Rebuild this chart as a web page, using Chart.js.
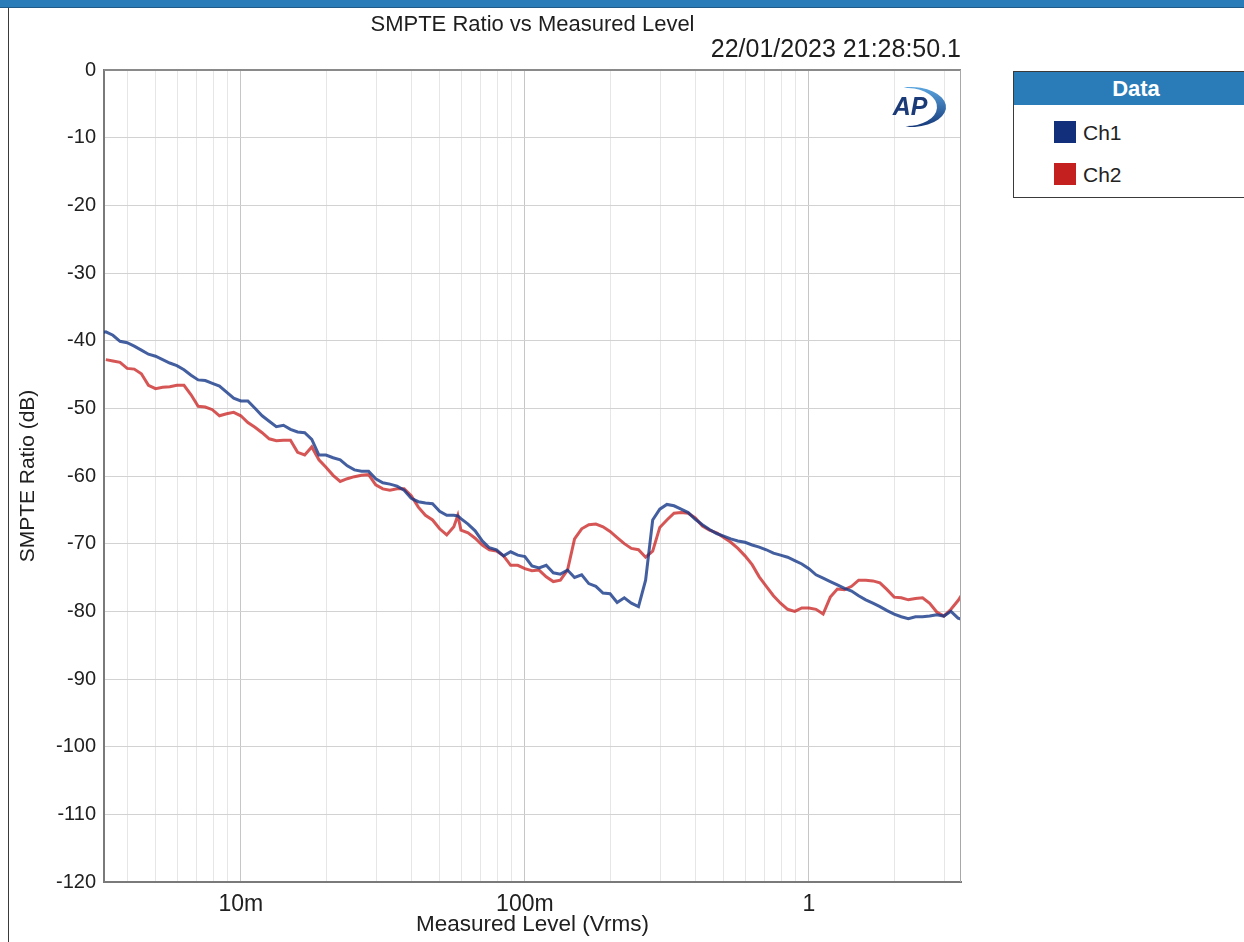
<!DOCTYPE html>
<html>
<head>
<meta charset="utf-8">
<script src="https://cdn.jsdelivr.net/npm/chart.js@4.4.1/dist/chart.umd.min.js"></script>
<style>
  html, body { margin:0; padding:0; background:#fff; width:1244px; height:942px; overflow:hidden; }
  #wrap { position:absolute; left:0; top:0; width:1244px; height:942px; }
  #topbar { position:absolute; left:0; top:0; width:1244px; height:7px; background:#2a7cb9; border-bottom:1px solid #1f5a88; }
  #leftrule { position:absolute; left:8px; top:8px; width:1px; height:934px; background:#3a3a3a; }
  #legend { position:absolute; left:1013px; top:71px; width:244px; height:125px; border:1px solid #3a3a3a; background:#fff;
            font-family:'Liberation Sans', Arial, sans-serif; color:#222; }
  #legend .hd { position:absolute; left:0; top:0; width:100%; height:33px; background:#2a7cb9; color:#fff;
                font-weight:bold; font-size:22px; line-height:34px; text-align:center; }
  #legend .sw { position:absolute; left:40px; width:22px; height:22px; }
  #legend .lb { position:absolute; left:69px; font-size:21px; line-height:24px; }
</style>
</head>
<body>
<div id="wrap"><canvas id="c" width="1244" height="942"></canvas></div>
<div id="topbar"></div>
<div id="leftrule"></div>
<div id="legend">
  <div class="hd">Data</div>
  <div class="sw" style="top:49px;background:#112f7b;"></div><div class="lb" style="top:49px;">Ch1</div>
  <div class="sw" style="top:91px;background:#c42020;"></div><div class="lb" style="top:91px;">Ch2</div>
</div>
<script>
// ---- data ----
const chartTitle = 'SMPTE Ratio vs Measured Level';
const timestamp = '22/01/2023 21:28:50.1';
const seriesNames = ['Ch1', 'Ch2'];

// Measured level (Vrms)
const levels = [
  0.003162, 0.003350, 0.003548, 0.003758, 0.003981, 0.004217, 0.004467, 0.004732, 0.005012, 0.005309,
  0.005623, 0.005957, 0.006310, 0.006683, 0.007079, 0.007499, 0.007943, 0.008414, 0.008913, 0.009441,
  0.01000, 0.01059, 0.01122, 0.01189, 0.01259, 0.01334, 0.01413, 0.01496, 0.01585, 0.01679,
  0.01778, 0.01884, 0.01995, 0.02113, 0.02239, 0.02371, 0.02512, 0.02661, 0.02818, 0.02985,
  0.03162, 0.03350, 0.03548, 0.03758, 0.03981, 0.04217, 0.04467, 0.04732, 0.05012, 0.05309,
  0.05623, 0.05808, 0.05957, 0.06310, 0.06683, 0.07079, 0.07499, 0.07943, 0.08414, 0.08913, 0.09441,
  0.1000, 0.1059, 0.1122, 0.1189, 0.1259, 0.1334, 0.1413, 0.1496, 0.1585, 0.1679,
  0.1778, 0.1884, 0.1995, 0.2113, 0.2239, 0.2371, 0.2512, 0.2661, 0.2818, 0.2985,
  0.3162, 0.3350, 0.3548, 0.3758, 0.3981, 0.4217, 0.4467, 0.4732, 0.5012, 0.5309,
  0.5623, 0.5957, 0.6310, 0.6683, 0.7079, 0.7499, 0.7943, 0.8414, 0.8913, 0.9441,
  1.000, 1.059, 1.122, 1.189, 1.259, 1.334, 1.413, 1.496, 1.585, 1.679,
  1.778, 1.884, 1.995, 2.113, 2.239, 2.371, 2.512, 2.661, 2.818, 2.985,
  3.162, 3.350, 3.548
];

// SMPTE ratio (dB), Ch1
const ch1 = [
  -38.9, -38.7, -39.2, -40.1, -40.3, -40.8, -41.4, -42.0, -42.3, -42.8,
  -43.3, -43.7, -44.3, -45.1, -45.8, -45.9, -46.3, -46.7, -47.6, -48.5,
  -48.9, -48.9, -50.0, -51.1, -51.9, -52.7, -52.5, -53.1, -53.5, -53.6,
  -54.6, -56.9, -56.9, -57.3, -57.6, -58.5, -59.1, -59.3, -59.3, -60.4,
  -61.0, -61.2, -61.5, -62.1, -63.3, -63.8, -64.0, -64.1, -65.2, -65.8,
  -65.8, -65.9, -66.3, -67.1, -68.1, -69.6, -70.6, -70.9, -71.8, -71.2, -71.7,
  -71.9, -73.3, -73.6, -73.2, -74.3, -74.5, -73.9, -75.0, -74.6, -75.9,
  -76.3, -77.3, -77.4, -78.7, -78.0, -78.8, -79.3, -75.4, -66.5, -64.9,
  -64.2, -64.4, -64.9, -65.4, -66.4, -67.2, -67.9, -68.5, -68.9, -69.3,
  -69.6, -69.8, -70.2, -70.5, -70.9, -71.4, -71.7, -72.0, -72.5, -73.0,
  -73.7, -74.6, -75.1, -75.6, -76.1, -76.6, -77.0, -77.7, -78.3, -78.8,
  -79.3, -79.9, -80.4, -80.8, -81.1, -80.8, -80.8, -80.7, -80.5, -80.7,
  -80.0, -81.0, -81.4
];

// SMPTE ratio (dB), Ch2
const ch2 = [
  null, -42.8, -43.0, -43.2, -44.1, -44.2, -44.9, -46.6, -47.1, -46.9,
  -46.8, -46.6, -46.6, -48.0, -49.7, -49.8, -50.2, -51.1, -50.8, -50.6,
  -51.1, -52.1, -52.8, -53.6, -54.5, -54.8, -54.7, -54.7, -56.5, -56.9,
  -55.7, -57.6, -58.7, -59.9, -60.8, -60.4, -60.1, -59.9, -59.8, -61.3,
  -61.9, -62.1, -61.9, -61.9, -62.9, -64.6, -65.8, -66.5, -67.8, -68.7,
  -67.5, -65.8, -68.0, -68.4, -69.2, -70.2, -70.9, -71.1, -71.8, -73.2, -73.2,
  -73.7, -74.0, -73.9, -74.9, -75.6, -75.4, -73.9, -69.3, -67.8, -67.2,
  -67.1, -67.5, -68.2, -69.1, -70.0, -70.7, -70.9, -72.0, -71.1, -67.6,
  -66.5, -65.5, -65.4, -65.5, -66.2, -67.4, -68.0, -68.4, -69.1, -69.8,
  -70.7, -71.8, -73.1, -74.9, -76.3, -77.7, -78.8, -79.7, -80.0, -79.5,
  -79.5, -79.7, -80.4, -77.9, -76.7, -76.8, -76.3, -75.4, -75.4, -75.5,
  -75.8, -76.8, -77.9, -78.0, -78.3, -78.1, -78.0, -78.8, -80.1, -80.7,
  -79.7, -78.4, -76.8
];

// axis ticks
const xTickValues = [0.01, 0.1, 1];
const xTickLabels = ['10m', '100m', '1'];
const xMin = 0.0033, xMax = 3.43;
const yMin = -120, yMax = 0, yStep = 10;

// ---- chart ----
Chart.defaults.font.family = "'Liberation Sans', Arial, sans-serif";
Chart.defaults.color = '#202020';

const toPoints = (ys) => levels.map((x, i) => ({ x: x, y: ys[i] })).filter(p => p.y !== null);

// gridline positions: decades and their 2..9 multiples inside the axis range
const gridValues = [];
[0.001, 0.01, 0.1, 1].forEach(d => {
  for (let k = 1; k <= 9; k++) {
    const v = +(d * k).toPrecision(6);
    if (v >= xMin && v <= xMax) gridValues.push(v);
  }
});
const majorIndex = (v) => xTickValues.findIndex(t => Math.abs(t - v) / t < 1e-6);

const framePlugin = {
  id: 'frame',
  afterDatasetsDraw(chart) {
    const { ctx, chartArea: a } = chart;
    ctx.save();
    ctx.strokeStyle = '#8a8a8a';
    ctx.lineWidth = 2;
    ctx.beginPath(); ctx.moveTo(a.left, a.top); ctx.lineTo(a.right, a.top); ctx.stroke();
    ctx.strokeStyle = '#a8a8a8';
    ctx.lineWidth = 1;
    ctx.beginPath(); ctx.moveTo(a.right - 0.5, a.top); ctx.lineTo(a.right - 0.5, a.bottom); ctx.stroke();

    // AP logo
    const cx = a.right - 50, cy = a.top + 37;
    const g = ctx.createLinearGradient(cx, cy - 20, cx, cy + 20);
    g.addColorStop(0, '#5aa6e0');
    g.addColorStop(1, '#16397a');
    ctx.fillStyle = g;
    ctx.beginPath();
    ctx.ellipse(cx, cy, 35, 20, 0, -1.68, 1.62, false);
    ctx.ellipse(cx - 4, cy, 30, 19, 0, 1.62, -1.68, true);
    ctx.closePath();
    ctx.fill();
    ctx.fillStyle = '#1b3a78';
    ctx.font = "italic bold 25px 'Liberation Sans', Arial, sans-serif";
    ctx.textAlign = 'center';
    ctx.textBaseline = 'middle';
    ctx.fillText('AP', cx - 1, cy + 1);
    ctx.restore();
  }
};

new Chart(document.getElementById('c'), {
  type: 'line',
  data: {
    datasets: [
      { label: seriesNames[0], data: toPoints(ch1), borderColor: 'rgba(20,55,135,0.8)', borderWidth: 3,
        pointRadius: 0, tension: 0, fill: false },
      { label: seriesNames[1], data: toPoints(ch2), borderColor: 'rgba(200,30,30,0.75)', borderWidth: 3,
        pointRadius: 0, tension: 0, fill: false }
    ]
  },
  options: {
    responsive: false,
    animation: false,
    devicePixelRatio: 1,
    layout: { padding: { left: 10, right: 283, top: 0, bottom: 0 } },
    plugins: {
      legend: { display: false },
      tooltip: { enabled: false },
      title: { display: true, text: chartTitle, fullSize: false, align: 'center',
               font: { size: 22, weight: 'normal', lineHeight: 1 }, color: '#1e1e1e',
               padding: { top: 14, bottom: 0 } },
      subtitle: { display: true, text: timestamp, fullSize: false, align: 'end',
                  font: { size: 25, lineHeight: 1 }, color: '#1e1e1e',
                  padding: { top: 2, bottom: 7 } }
    },
    scales: {
      x: {
        type: 'logarithmic',
        min: xMin, max: xMax,
        afterFit(scale) { scale.height = 60; },
        afterBuildTicks(scale) { scale.ticks = gridValues.map(v => ({ value: v })); },
        ticks: {
          autoSkip: false, maxRotation: 0, padding: 9,
          font: { size: 23 }, color: '#202020',
          callback: (v) => { const i = majorIndex(v); return i >= 0 ? xTickLabels[i] : ''; }
        },
        grid: {
          drawTicks: false,
          color: (c) => (c.tick && majorIndex(c.tick.value) >= 0) ? '#c6c6c6' : '#e6e6e6',
          lineWidth: 1
        },
        border: { color: '#7a7a7a', width: 2 },
        title: { display: true, text: 'Measured Level (Vrms)', font: { size: 22.5, lineHeight: 1.2 },
                 color: '#202020', padding: { top: 0, bottom: 3.5 } }
      },
      y: {
        type: 'linear',
        min: yMin, max: yMax,
        afterFit(scale) { scale.width = 94; },
        ticks: { stepSize: yStep, padding: 8, font: { size: 20 }, color: '#202020' },
        grid: { drawTicks: false, color: '#d2d2d2', lineWidth: 1 },
        border: { color: '#7a7a7a', width: 2 },
        title: { display: true, text: 'SMPTE Ratio (dB)', font: { size: 21, lineHeight: 1.2 },
                 color: '#202020', padding: { top: 5.4, bottom: 0 } }
      }
    }
  },
  plugins: [framePlugin]
});
</script>
</body>
</html>
